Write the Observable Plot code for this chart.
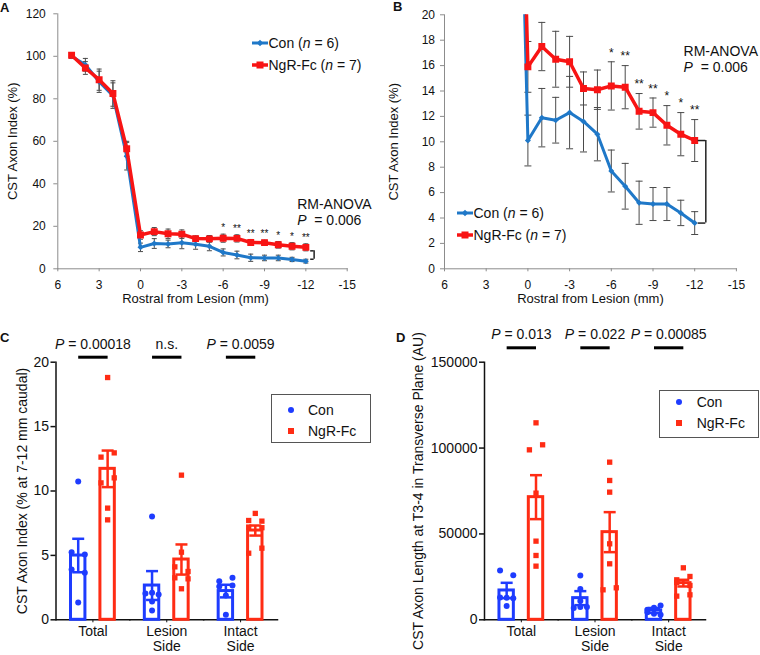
<!DOCTYPE html>
<html>
<head>
<meta charset="utf-8">
<script src="https://cdn.jsdelivr.net/npm/d3@7"></script>
<script src="https://cdn.jsdelivr.net/npm/@observablehq/plot@0.6"></script>
<style>
  html, body { margin: 0; padding: 0; background: #fff; }
  body { font-family: "Liberation Sans", Arial, Helvetica, sans-serif; color: #111; }
  #root { position: relative; width: 760px; height: 655px; overflow: hidden; }
  .panel { position: absolute; }
  .panel svg text { white-space: pre; }
  .tag { position: absolute; font-weight: bold; font-size: 13px; line-height: 13px; }
  .leg { position: absolute; font-size: 14px; line-height: 16px; height: 16px; white-space: nowrap; }
  .leg svg { vertical-align: top; margin-right: 1px; }
  .box { position: absolute; border: 1px solid #555; box-sizing: border-box; background: #fff; }
</style>
</head>
<body>
<div id="root"></div>
<script>
// ---------------- data: panels A & B (same series) ----------------
const positions = [5, 4, 3, 2, 1, 0, -1, -2, -3, -4, -5, -6, -7, -8, -9, -10, -11, -12];
const conIndex = [100, 96, 88, 81.5, 53, 10.1, 11.9, 11.7, 12.3, 11.6, 10.6, 7.7, 6.5, 5.2, 5.1, 5.1, 4.4, 3.6];
const conSem   = [1, 3, 5, 6, 6.5, 2.0, 2.3, 1.8, 2.85, 2.4, 2.1, 1.65, 1.8, 1.7, 1.3, 1.3, 1.0, 0.9];
const ngrIndex = [100.5, 94.5, 89, 82.5, 56.5, 15.9, 17.5, 16.5, 16.3, 14.2, 14.1, 14.4, 14.3, 12.4, 12.3, 11.3, 10.6, 10.1];
const ngrSem   = [0.8, 3, 5, 6, 3.5, 2.0, 1.9, 2.2, 2.0, 1.3, 1.55, 1.9, 1.7, 1.4, 1.15, 1.55, 1.7, 1.65];
const starPositions = [-6, -7, -8, -9, -10, -11, -12];
const starLabels = ["*", "**", "**", "**", "*", "*", "**"];
const xTicks = [6, 3, 0, -3, -6, -9, -12, -15];
const yTicksA = [0, 20, 40, 60, 80, 100, 120];
const yTicksB = [0, 2, 4, 6, 8, 10, 12, 14, 16, 18, 20];
const lineLegendLabels = ["Con (<i>n</i> = 6)", "NgR-Fc (<i>n</i> = 7)"];
const anovaText = ["RM-ANOVA", "P  = 0.006"];
const anovaAnchorA = [-11.37, 26.8];
const anovaAnchorB = [-11.2, 16.5];
const bracketA = [-12.35, -12.6];
const bracketB = [-12.25, -12.8];
const lineYTitle = "CST Axon Index (%)";
const lineXTitle = "Rostral from Lesion (mm)";

// ---------------- data: panels C & D ----------------
const groups = ["Con", "NgR-Fc"];
const categories = ["Total", "Lesion Side", "Intact Side"];

const cConMean = [4.99, 2.66, 2.23];
const cConSem  = [1.3, 1.12, 0.49];
const cNgrMean = [11.72, 4.68, 6.93];
const cNgrSem  = [1.42, 1.17, 0.39];
const cConPoints = [[10.74, 5.25, 5.07, 3.9, 3.65, 1.35], [8.02, 2.04, 2.1, 1.97, 1.42, 0.72], [3.0, 3.26, 2.59, 2.66, 1.89, 0.39]];
const cNgrPoints = [[18.81, 12.63, 12.96, 10.63, 11.02, 8.67, 7.76], [11.23, 5.25, 4.11, 3.75, 3.26, 3.18, 2.41], [8.26, 7.71, 7.66, 7.2, 7.15, 5.17, 5.56]];
const cPLabels = ["P = 0.00018", "n.s.", "P = 0.0059"];
const cYTicks = [0, 5, 10, 15, 20];
const cYTitle = "CST Axon Index (% at 7-12 mm caudal)";

const dConMean = [17077, 12610, 5434];
const dConSem  = [4460, 4080, 1450];
const dNgrMean = [71415, 51040, 21350];
const dNgrSem  = [12800, 11650, 1940];
const dConPoints = [[28700, 26000, 13000, 12800, 12500, 8000], [25800, 18000, 11000, 6800, 7400, 7400], [5820, 6990, 8340, 4460, 3490, 2900]];
const dNgrPoints = [[114700, 98970, 101900, 73740, 45800, 37450, 31240], [91790, 81120, 74330, 44250, 32600, 17460, 18630], [30270, 23290, 25230, 21730, 20000, 13780, 14550]];
const dPLabels = ["P = 0.013", "P = 0.022", "P = 0.00085"];
const dYTicks = [0, 50000, 100000, 150000];
const dYTitle = "CST Axon Length at T3-4 in Transverse Plane (AU)";

// ---------------- styling ----------------
const FONT = '"Liberation Sans", Arial, Helvetica, sans-serif';
const BLUE_AB = "#1f78c8", RED_AB = "#f81414";
const BLUE_CD = "#1e3cff", RED_CD = "#ff2c14";
const AXIS_GREY = "#8c8c8c";

const root = document.getElementById("root");
function place(node, left, top) {
  const w = document.createElement("div");
  w.className = "panel";
  w.style.left = left + "px";
  w.style.top = top + "px";
  w.append(node);
  root.append(w);
  return node;
}
function html(cls, left, top, inner, extra = "") {
  const d = document.createElement("div");
  d.className = cls;
  d.style.cssText = `left:${left}px;top:${top}px;${extra}`;
  d.innerHTML = inner;
  root.append(d);
  return d;
}
// italicize the statistic letters P and n in "P = ..." / "n = ..."
function italicize(svg) {
  const leaves = [...svg.querySelectorAll("text, tspan")].filter(el => el.children.length === 0);
  for (const el of leaves) {
    const t = el.textContent;
    const re = /\b([Pn])(?=\s+=)/g;
    if (!re.test(t)) continue;
    re.lastIndex = 0;
    el.textContent = "";
    let last = 0, m;
    while ((m = re.exec(t))) {
      if (m.index > last) el.appendChild(document.createTextNode(t.slice(last, m.index)));
      const ts = document.createElementNS("http://www.w3.org/2000/svg", "tspan");
      ts.setAttribute("font-style", "italic");
      ts.textContent = m[1];
      el.appendChild(ts);
      last = m.index + 1;
    }
    if (last < t.length) el.appendChild(document.createTextNode(t.slice(last)));
  }
}
// horizontal-line symbol for error bar caps
const capSymbol = { draw(ctx, size) { const r = Math.sqrt(size / Math.PI); ctx.moveTo(-r, 0); ctx.lineTo(r, 0); } };

// ---------------- line panels ----------------
const LINE_H = 312;
function linePanel(cfg) {
  const rows = [];
  positions.forEach((x, i) => rows.push({x, value: conIndex[i], sem: conSem[i], group: groups[0]}));
  positions.forEach((x, i) => rows.push({x, value: ngrIndex[i], sem: ngrSem[i], group: groups[1]}));
  const con = rows.filter(d => d.group === groups[0]);
  const ngr = rows.filter(d => d.group === groups[1]);
  const stars = starPositions.map((x, i) => {
    const j = positions.indexOf(x);
    return {x, y: ngrIndex[j] + ngrSem[j], label: starLabels[i]};
  });
  const last = positions.length - 1;
  const [lo, hi] = cfg.bracketRange(last);
  const brH = [{y: lo}, {y: hi}];
  const err = {stroke: "#4a4a4a", strokeWidth: 1, clip: true};
  const yMax = cfg.yTicks[cfg.yTicks.length - 1];
  return Plot.plot({
    width: 380, height: LINE_H,
    marginLeft: cfg.marginLeft, marginRight: cfg.marginRight, marginTop: cfg.marginTop, marginBottom: LINE_H - 268.3,
    x: {domain: [xTicks[0], xTicks[xTicks.length - 1]]},
    y: {domain: [0, yMax]},
    color: {domain: groups, range: [BLUE_AB, RED_AB]},
    style: {fontFamily: FONT, fontSize: "12px", color: "#111", background: "transparent"},
    marks: [
      Plot.frame({anchor: "left", stroke: AXIS_GREY}),
      Plot.frame({anchor: "bottom", stroke: AXIS_GREY}),
      Plot.axisY(cfg.yTicks, {tickSize: 4, tickPadding: cfg.yTickPadding, stroke: AXIS_GREY, fill: "#111", fontSize: 12, label: null, tickFormat: d => String(d)}),
      Plot.axisX(xTicks, {tickSize: 3, tickPadding: 8.5, stroke: AXIS_GREY, fill: "#111", fontSize: 12, label: null, tickFormat: d => String(d)}),
      Plot.text([lineYTitle], {text: d => d, frameAnchor: "left", textAnchor: "middle", rotate: -90, dx: cfg.yTitleDx, fontSize: 13, lineAnchor: "middle"}),
      Plot.text([lineXTitle], {text: d => d, frameAnchor: "bottom", textAnchor: "middle", dx: cfg.xTitleDx, dy: 30.5, fontSize: 13, lineAnchor: "middle"}),
      // error bars
      Plot.ruleX(rows, {x: "x", y1: d => d.value - d.sem, y2: d => d.value + d.sem, ...err}),
      Plot.dot(rows, {x: "x", y: d => d.value - d.sem, symbol: capSymbol, r: cfg.capR, fill: "none", ...err}),
      Plot.dot(rows, {x: "x", y: d => d.value + d.sem, symbol: capSymbol, r: cfg.capR, fill: "none", ...err}),
      // series
      Plot.lineY(con, {x: "x", y: "value", stroke: "group", strokeWidth: 3, clip: true}),
      Plot.dot(con, {x: "x", y: "value", fill: "group", symbol: "diamond2", r: 2.7, clip: true}),
      Plot.lineY(ngr, {x: "x", y: "value", stroke: "group", strokeWidth: 3.5, clip: true}),
      Plot.dot(ngr, {x: "x", y: "value", fill: "group", symbol: "square", r: 3.9, clip: true}),
      // significance
      Plot.text(stars, {x: "x", y: "y", text: "label", dy: cfg.starDy, fontSize: cfg.starSize, lineAnchor: "middle"}),
      Plot.ruleX([{}], {x: () => cfg.bracket[1], y1: () => lo, y2: () => hi, stroke: "#222", strokeWidth: 1.5}),
      Plot.ruleY(brH, {y: "y", x1: () => cfg.bracket[0], x2: () => cfg.bracket[1], stroke: "#222", strokeWidth: 1.5}),
      Plot.text([{x: cfg.anova[0], y: cfg.anova[1], t: anovaText.join("\n")}], {x: "x", y: "y", text: "t", textAnchor: "start", lineAnchor: "middle", fontSize: 14, lineHeight: 1.15})
    ]
  });
}

const svgA = place(linePanel({
  yTicks: yTicksA, marginLeft: 57.3, marginRight: 33.3, marginTop: 13.3, yTickPadding: 8,
  yTitleDx: -45, xTitleDx: -7, capR: 2.5, starDy: -6, starSize: 10,
  bracket: bracketA, anova: anovaAnchorA,
  bracketRange: i => [conIndex[i] + conSem[i], ngrIndex[i] - ngrSem[i]]
}), 0, 0);
const svgB = place(linePanel({
  yTicks: yTicksB, marginLeft: 64, marginRight: 24.1, marginTop: 14.3, yTickPadding: 5.5,
  yTitleDx: -50.7, xTitleDx: 0, capR: 3.5, starDy: -9, starSize: 12,
  bracket: bracketB, anova: anovaAnchorB,
  bracketRange: i => [conIndex[i], ngrIndex[i]]
}), 380, 0);
italicize(svgA); italicize(svgB);

// legends for A and B
const diamondIcon = `<svg width="16" height="16"><line x1="0" x2="16" y1="8" y2="8" stroke="${BLUE_AB}" stroke-width="3"/><polygon points="8,4.8 11.2,8 8,11.2 4.8,8" fill="${BLUE_AB}"/></svg>`;
const squareIcon = `<svg width="16" height="16"><line x1="0" x2="16" y1="8" y2="8" stroke="${RED_AB}" stroke-width="3.5"/><rect x="4.5" y="4.5" width="7" height="7" fill="${RED_AB}"/></svg>`;
function lineLegend(left, tops) {
  html("leg", left, tops[0] - 8, diamondIcon + lineLegendLabels[0]);
  html("leg", left, tops[1] - 8, squareIcon + lineLegendLabels[1]);
}
lineLegend(251.5, [43.3, 65]);
lineLegend(456.5, [213.3, 235]);

// ---------------- bar panels ----------------
function barPanel(cfg) {
  const H = 330, mTop = 36.7, mBottom = 35.7;
  const yMax = cfg.yTicks[cfg.yTicks.length - 1];
  const unitPx = (H - mTop - mBottom) / yMax;
  const summary = [], points = [];
  function addPoints(category, group, values) {
    const threshold = 5.5 / unitPx;
    const order = d3.range(values.length).sort((a, b) => values[b] - values[a]);
    const rowsOfPts = [];
    for (const i of order) {
      const row = rowsOfPts[rowsOfPts.length - 1];
      if (row && values[row[0]] - values[i] < threshold) row.push(i); else rowsOfPts.push([i]);
    }
    for (const row of rowsOfPts) {
      row.sort((a, b) => a - b);
      const k = row.length;
      row.forEach((i, j) => {
        const slot = k === 2 ? (j === 0 ? -1 : 1) : j - (k - 1) / 2;
        points.push({category, group, value: values[i], slot});
      });
    }
  }
  categories.forEach((c, k) => {
    summary.push({category: c, group: groups[0], mean: cfg.conMean[k], sem: cfg.conSem[k]});
    summary.push({category: c, group: groups[1], mean: cfg.ngrMean[k], sem: cfg.ngrSem[k]});
    addPoints(c, groups[0], cfg.conPoints[k]);
    addPoints(c, groups[1], cfg.ngrPoints[k]);
  });
  const dotMarks = d3.groups(points, d => d.slot).map(([slot, pts]) =>
    Plot.dot(pts, {fx: "category", x: "group", y: "value", fill: "group", symbol: "group", r: 3, dx: slot * 6.6}));
  const eb = {fx: "category", x: "group", stroke: "group", strokeWidth: 2.5};
  return Plot.plot({
    width: 380, height: H,
    marginLeft: cfg.marginLeft, marginRight: cfg.marginRight, marginTop: mTop, marginBottom: mBottom,
    fx: {domain: categories, padding: 0, round: false},
    x: {domain: groups, padding: 0.51, round: false, axis: null},
    y: {domain: [0, yMax]},
    color: {domain: groups, range: [BLUE_CD, RED_CD]},
    symbol: {domain: groups, range: ["circle", "square"]},
    style: {fontFamily: FONT, fontSize: "14px", color: "#111", background: "transparent"},
    marks: [
      Plot.frame({anchor: "bottom", strokeWidth: 1.5}),
      Plot.frame({anchor: "left", strokeWidth: 1.5, facetAnchor: "left"}),
      Plot.axisY(cfg.yTicks, {tickSize: 5, tickPadding: 2, strokeWidth: 1.5, fontSize: 14, label: null, tickFormat: d => String(d)}),
      Plot.axisFx({anchor: "bottom", tickSize: 3, tickPadding: 2, fontSize: 14, lineHeight: 1.1, label: null, tickFormat: d => d.replace(" ", "\n")}),
      Plot.text([{category: categories[0], t: cfg.yTitle}], {fx: "category", text: "t", frameAnchor: "left", textAnchor: "middle", rotate: -90, dx: cfg.yTitleDx, fontSize: 14, lineAnchor: "middle"}),
      Plot.barY(summary, {fx: "category", x: "group", y: "mean", stroke: "group", fill: "white", strokeWidth: 3}),
      ...dotMarks,
      Plot.ruleX(summary, {...eb, y1: d => d.mean - d.sem, y2: d => d.mean + d.sem}),
      Plot.dot(summary, {...eb, y: d => d.mean + d.sem, symbol: capSymbol, r: 6, fill: "none"}),
      Plot.dot(summary, {...eb, y: d => d.mean - d.sem, symbol: capSymbol, r: 6, fill: "none"}),
      Plot.text(categories.map((c, i) => ({category: c, label: cfg.pLabels[i]})), {fx: "category", text: "label", frameAnchor: "top", dy: cfg.pTextDy, fontSize: 14, lineAnchor: "middle"}),
      Plot.link(categories.map(c => ({category: c})), {fx: "category", x1: () => groups[0], x2: () => groups[1], y1: () => yMax, y2: () => yMax, dy: cfg.pLineDy, stroke: "#000", strokeWidth: 3})
    ]
  });
}

const svgC = place(barPanel({
  marginLeft: 55.5, marginRight: 103, yTicks: cYTicks, yTitle: cYTitle, yTitleDx: -33.8,
  conMean: cConMean, conSem: cConSem, ngrMean: cNgrMean, ngrSem: cNgrSem,
  conPoints: cConPoints, ngrPoints: cNgrPoints, pLabels: cPLabels, pTextDy: -17.7, pLineDy: -5
}), 0, 325);
const svgD = place(barPanel({
  marginLeft: 104, marginRight: 55, yTicks: dYTicks, yTitle: dYTitle, yTitleDx: -65.7,
  conMean: dConMean, conSem: dConSem, ngrMean: dNgrMean, ngrSem: dNgrSem,
  conPoints: dConPoints, ngrPoints: dNgrPoints, pLabels: dPLabels, pTextDy: -27.7, pLineDy: -14.4
}), 380, 325);
italicize(svgC); italicize(svgD);

// legends for C and D
function boxLegend(left, top, w, h, rowTops, markerX, textX) {
  html("box", left, top, "", `width:${w}px;height:${h}px;`);
  const circ = `<svg width="8" height="16" style="position:absolute;left:${markerX - left - 4}px;top:0"><circle cx="4" cy="8" r="3" fill="${BLUE_CD}"/></svg>`;
  const sq = `<svg width="8" height="16" style="position:absolute;left:${markerX - left - 4}px;top:0"><rect x="1" y="5" width="6" height="6" fill="${RED_CD}"/></svg>`;
  html("leg", left, rowTops[0] - 8, circ + `<span style="position:absolute;left:${textX - left}px">${groups[0]}</span>`);
  html("leg", left, rowTops[1] - 8, sq + `<span style="position:absolute;left:${textX - left}px">${groups[1]}</span>`);
}
boxLegend(271, 394, 100, 49, [410, 431], 291, 308);
boxLegend(659, 390, 100, 48, [402.3, 423.3], 679.3, 696.7);

// panel tags
html("tag", 0, 1, "A");
html("tag", 393, 0, "B");
html("tag", 0, 331, "C");
html("tag", 396, 331, "D");
</script>
</body>
</html>
